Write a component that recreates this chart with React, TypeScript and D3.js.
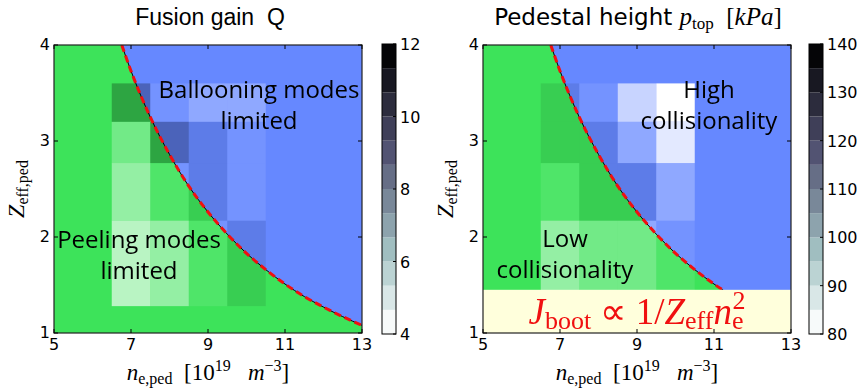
import React from "react";
import * as d3 from "d3";

// grid of the scan: density column centres and Z_eff row edges
const neCenters = [7, 8, 9, 10];
const zEdges = [1.28, 2.17, 2.77, 3.2, 3.6];

// rows bottom -> top, columns ne = 7..10
const fusionGain = [
  [5.9, 6.6, 7.8, 8.2],
  [6.0, 7.5, 8.2, 7.9],
  [7.0, 9.0, 8.2, 7.5],
  [9.0, 7.8, 7.2, 6.8],
];
const pedestalHeight = [
  [99, 101, 104, 106],
  [107, 111, 112, 100],
  [112, 113, 102, 87],
  [112, 108, 92, 83],
];

// peeling / ballooning boundary
const boundaryNe = [6.76, 7, 7.5, 8, 8.5, 9, 9.5, 10, 10.5, 11, 11.5, 12, 12.5, 13];
const boundaryZ = [4, 3.73, 3.25, 2.86, 2.53, 2.26, 2.03, 1.83, 1.66, 1.51, 1.38, 1.27, 1.17, 1.08];

const xTicks = [5, 7, 9, 11, 13];
const yTicks = [1, 2, 3, 4];
const qTicks = [4, 6, 8, 10, 12];
const pTicks = [80, 90, 100, 110, 120, 130, 140];
const boxZTop = 1.45;

const GREEN = "#3de35a";
const BLUE = "#6688ff";
const TOP = 45;
const BOTTOM = 333;
const W = 308;
const NBANDS = 12;

const boneR = d3.scaleLinear().domain([0, 0.746032, 1]).range([0, 0.652778, 1]);
const boneG = d3.scaleLinear().domain([0, 0.365079, 0.746032, 1]).range([0, 0.319444, 0.777778, 1]);
const boneB = d3.scaleLinear().domain([0, 0.365079, 1]).range([0, 0.444444, 1]);
const bone = (x: number) => d3.rgb(boneR(x) * 255, boneG(x) * 255, boneB(x) * 255).formatHex();

// colorbar bands (bone_r), cells use the band's grey level
const bandColor = (idx: number) => bone(1 - (idx + 0.25) / (NBANDS - 0.5));
const bandGray = (idx: number) => {
  const l = Math.round((1 - idx / (NBANDS - 1)) * 255);
  return d3.rgb(l, l, l).formatHex();
};

const mathFont = "Liberation Serif";

function Panel({ x0, cbX, values, vmin, vmax, cbTicks, id, children }) {
  const x = d3.scaleLinear().domain([5, 13]).range([x0, x0 + W]);
  const y = d3.scaleLinear().domain([1, 4]).range([BOTTOM, TOP]);
  const band = (v: number) =>
    Math.max(0, Math.min(NBANDS - 1, Math.floor(((v - vmin) / (vmax - vmin)) * NBANDS)));

  const pts = boundaryNe.map((n, i) => [n, boundaryZ[i]]);
  const area = d3
    .area<number[]>()
    .x((d) => x(d[0]))
    .y0(y(4))
    .y1((d) => y(d[1]))
    .curve(d3.curveMonotoneX);
  const line = d3
    .line<number[]>()
    .x((d) => x(d[0]))
    .y((d) => y(d[1]))
    .curve(d3.curveMonotoneX);

  const cbY = d3.scaleLinear().domain([vmin, vmax]).range([334, 44]);
  const step = (vmax - vmin) / NBANDS;

  return (
    <g>
      <defs>
        <clipPath id={id}>
          <rect x={x0} y={TOP} width={W} height={BOTTOM - TOP} />
        </clipPath>
      </defs>
      <g clipPath={`url(#${id})`}>
        <rect x={x0} y={TOP} width={W} height={BOTTOM - TOP} fill={GREEN} />
        <path d={area(pts)} fill={BLUE} />
        {values.map((row, ri) =>
          row.map((v, ci) => (
            <rect
              key={`${ri}-${ci}`}
              x={x(neCenters[ci] - 0.5)}
              y={y(zEdges[ri + 1])}
              width={x(neCenters[ci] + 0.5) - x(neCenters[ci] - 0.5)}
              height={y(zEdges[ri]) - y(zEdges[ri + 1])}
              fill={bandGray(band(v))}
              style={{ mixBlendMode: "hard-light" }}
            />
          ))
        )}
        <path d={line(pts)} fill="none" stroke="#000" strokeWidth={1} />
        <path d={line(pts)} fill="none" stroke="#f01010" strokeWidth={3} strokeDasharray="7,4" />
        {children}
      </g>
      <rect x={x0} y={TOP} width={W} height={BOTTOM - TOP} fill="none" stroke="#222" strokeWidth={1.2} />
      {xTicks.map((t) => (
        <g key={t}>
          <line x1={x(t)} x2={x(t)} y1={BOTTOM} y2={BOTTOM - 4} stroke="#000" />
          <line x1={x(t)} x2={x(t)} y1={TOP} y2={TOP + 4} stroke="#000" />
          <text x={x(t)} y={350} textAnchor="middle" fontFamily="DejaVu Sans" fontSize={16}>
            {t}
          </text>
        </g>
      ))}
      {yTicks.map((t) => (
        <g key={t}>
          <line x1={x0} x2={x0 + 4} y1={y(t)} y2={y(t)} stroke="#000" />
          <line x1={x0 + W} x2={x0 + W - 4} y1={y(t)} y2={y(t)} stroke="#000" />
          <text x={x0 - 4} y={y(t) + 5} textAnchor="end" fontFamily="DejaVu Sans" fontSize={16}>
            {t}
          </text>
        </g>
      ))}
      {d3.range(NBANDS).map((i) => (
        <rect
          key={i}
          x={cbX}
          y={cbY(vmin + (i + 1) * step)}
          width={14}
          height={cbY(vmin + i * step) - cbY(vmin + (i + 1) * step)}
          fill={bandColor(i)}
        />
      ))}
      <rect x={cbX} y={44} width={14} height={290} fill="none" stroke="#000" strokeWidth={1} />
      {cbTicks.map((t) => (
        <g key={t}>
          <line x1={cbX + 11} x2={cbX + 14} y1={cbY(t)} y2={cbY(t)} stroke="#000" />
          <text x={cbX + 18} y={cbY(t) + 6} fontFamily="DejaVu Sans" fontSize={16}>
            {t}
          </text>
        </g>
      ))}
      <g transform={`translate(${x0 - 30},189) rotate(-90)`}>
        <text textAnchor="middle" fontFamily={mathFont} fontSize={24}>
          <tspan fontStyle="italic">Z</tspan>
          <tspan fontSize={16} dy={4}>eff,ped</tspan>
        </text>
      </g>
      <text
        x={x0 + W / 2}
        y={380}
        textAnchor="middle"
        fontFamily={mathFont}
        fontSize={23}
        xmlSpace="preserve"
        style={{ whiteSpace: "pre" }}
      >
        <tspan fontStyle="italic">n</tspan>
        <tspan fontSize={16} dy={4}>e,ped</tspan>
        <tspan dy={-4}>{"  [10"}</tspan>
        <tspan fontSize={16} dy={-9}>19</tspan>
        <tspan dy={9} fontStyle="italic">{"   m"}</tspan>
        <tspan fontSize={16} dy={-9}>−3</tspan>
        <tspan dy={9}>]</tspan>
      </text>
    </g>
  );
}

const ann = { fontFamily: "Open Sans", fontSize: 24, textAnchor: "middle" as const };

export default function App() {
  const xr = d3.scaleLinear().domain([5, 13]).range([483, 483 + W]);
  const yr = d3.scaleLinear().domain([1, 4]).range([BOTTOM, TOP]);
  return (
    <svg
      width={861}
      height={388}
      style={{ position: "absolute", left: 0, top: 0, background: "#fff" }}
    >
      <text
        x={210}
        y={25}
        textAnchor="middle"
        fontFamily="Liberation Sans"
        fontSize={23}
        xmlSpace="preserve"
        style={{ whiteSpace: "pre" }}
      >
        {"Fusion gain  Q"}
      </text>
      <text x={638} y={25} textAnchor="middle" fontSize={23} xmlSpace="preserve" style={{ whiteSpace: "pre" }}>
        <tspan fontFamily="DejaVu Sans">{"Pedestal height "}</tspan>
        <tspan fontFamily={mathFont} fontStyle="italic" fontSize={25}>p</tspan>
        <tspan fontFamily={mathFont} fontSize={17} dy={4}>top</tspan>
        <tspan fontFamily={mathFont} fontSize={25} dy={-4}>{"  ["}</tspan>
        <tspan fontFamily={mathFont} fontStyle="italic" fontSize={25}>kPa</tspan>
        <tspan fontFamily={mathFont} fontSize={25}>]</tspan>
      </text>

      <Panel x0={54} cbX={382} values={fusionGain} vmin={4} vmax={12} cbTicks={qTicks} id="clipL">
        <text x={259} y={98} {...ann}>Ballooning modes</text>
        <text x={259} y={129} {...ann}>limited</text>
        <text x={139} y={248} {...ann}>Peeling modes</text>
        <text x={139} y={279} {...ann}>limited</text>
      </Panel>

      <Panel x0={483} cbX={809} values={pedestalHeight} vmin={80} vmax={140} cbTicks={pTicks} id="clipR">
        <text x={709} y={98} {...ann}>High</text>
        <text x={709} y={129} {...ann}>collisionality</text>
        <text x={565} y={247} {...ann}>Low</text>
        <text x={565} y={278} {...ann}>collisionality</text>
        <rect x={483} y={yr(boxZTop)} width={W} height={BOTTOM - yr(boxZTop)} fill="#ffffdc" />
        <text
          x={xr(9)}
          y={324}
          textAnchor="middle"
          fontFamily={mathFont}
          fontSize={37}
          fill="#f01010"
          xmlSpace="preserve"
          style={{ whiteSpace: "pre" }}
        >
          <tspan fontStyle="italic">J</tspan>
          <tspan fontSize={26} dy={5}>boot</tspan>
          <tspan dy={-5}>{" ∝ 1/"}</tspan>
          <tspan fontStyle="italic">Z</tspan>
          <tspan fontSize={26} dy={5}>eff</tspan>
          <tspan fontStyle="italic" dy={-5}>n</tspan>
          <tspan fontSize={26} dy={5}>e</tspan>
          <tspan fontSize={26} dx={-11} dy={-20}>2</tspan>
        </text>
      </Panel>
    </svg>
  );
}
